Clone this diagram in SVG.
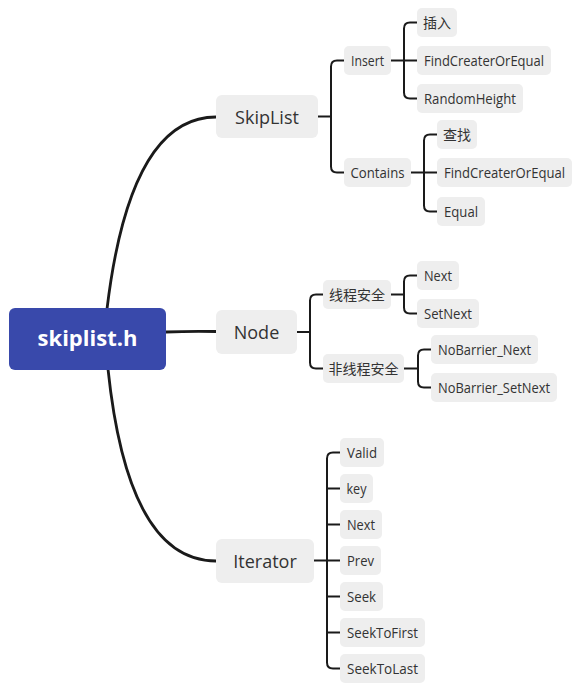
<svg xmlns="http://www.w3.org/2000/svg" width="583" height="692" viewBox="0 0 583 692">
<style>
  .bg{fill:#ffffff}
  .box{fill:#eeeeee}
  .root{fill:#3949ab}
  .t{font-family:"Open Sans","Noto Sans CJK SC",sans-serif;font-size:14.5px;fill:#333333;text-anchor:middle}
  .cn{font-family:"Noto Sans CJK SC",sans-serif;font-size:14px;fill:#333333;text-anchor:middle}
  .tm{font-family:"Open Sans","Noto Sans CJK SC",sans-serif;font-size:18px;fill:#333333;text-anchor:middle}
  .tr{font-family:"Open Sans",sans-serif;font-size:22px;font-weight:bold;fill:#ffffff;text-anchor:middle}
  .main{fill:none;stroke:#1a1a1a;stroke-width:2.8;stroke-linecap:round}
  .br{fill:none;stroke:#1a1a1a;stroke-width:2;stroke-linecap:round;stroke-linejoin:round}
</style>
<rect class="bg" x="0" y="0" width="583" height="692"/>
<g id="connectors">
  <path class="main" d="M107,309 Q130,117 216,117"/>
  <path class="main" d="M166,332 Q190,331 216,331.5"/>
  <path class="main" d="M108,369 Q128,561 216,561"/>
  <path class="br" d="M318,116.5 H331 M344,60.5 H337 Q331,60.5 331,66.5 V166.5 Q331,172.5 337,172.5 H344"/>
  <path class="br" d="M391,60.5 H417 M417,22.5 H410 Q404,22.5 404,28.5 V92.5 Q404,98.5 410,98.5 H417"/>
  <path class="br" d="M411,172.5 H437 M437,134.5 H430 Q424,134.5 424,140.5 V205.5 Q424,211.5 430,211.5 H437"/>
  <path class="br" d="M297,332 H310 M323,294.5 H316 Q310,294.5 310,300.5 V362.5 Q310,368.5 316,368.5 H323"/>
  <path class="br" d="M391,294.5 H404 M417,275.5 H410 Q404,275.5 404,281.5 V307.5 Q404,313.5 410,313.5 H417"/>
  <path class="br" d="M404,368.5 H418 M431,349.5 H424 Q418,349.5 418,355.5 V381.5 Q418,387.5 424,387.5 H431"/>
  <path class="br" d="M314,560.5 H340 M340,452.5 H333 Q327,452.5 327,458.5 V662.5 Q327,668.5 333,668.5 H340 M327,488.5 H340 M327,524.5 H340 M327,596.5 H340 M327,632.5 H340"/>
</g>
<g id="root"><rect class="root" x="9" y="308" width="157" height="62" rx="6"/><text class="tr" x="87.5" y="346">skiplist.h</text></g>
<g id="skiplist"><rect class="box" x="216" y="95" width="102" height="43" rx="6"/><text class="tm" x="267" y="123.5">SkipList</text></g>
<g id="node"><rect class="box" x="216" y="310" width="81" height="44" rx="6"/><text class="tm" x="256.5" y="338.5">Node</text></g>
<g id="iterator"><rect class="box" x="216" y="539" width="98" height="44" rx="6"/><text class="tm" x="265" y="567.5">Iterator</text></g>

<g id="insert"><rect class="box" x="344" y="46" width="47" height="29" rx="5"/><text class="t" x="367.5" y="66" textLength="33" lengthAdjust="spacingAndGlyphs">Insert</text></g>
<g id="contains"><rect class="box" x="344" y="158" width="67" height="29" rx="5"/><text class="t" x="377.5" y="178" textLength="54" lengthAdjust="spacingAndGlyphs">Contains</text></g>
<g id="insert-cn"><rect class="box" x="417" y="8" width="40" height="29" rx="5"/><text class="cn" x="437" y="27.5">插入</text></g>
<g id="insert-find"><rect class="box" x="417" y="46" width="134" height="29" rx="5"/><text class="t" x="484" y="66" textLength="120" lengthAdjust="spacingAndGlyphs">FindCreaterOrEqual</text></g>
<g id="insert-random"><rect class="box" x="417" y="84" width="106" height="29" rx="5"/><text class="t" x="470" y="104" textLength="92" lengthAdjust="spacingAndGlyphs">RandomHeight</text></g>
<g id="contains-cn"><rect class="box" x="437" y="120" width="40" height="29" rx="5"/><text class="cn" x="457" y="139.5">查找</text></g>
<g id="contains-find"><rect class="box" x="437" y="158" width="135" height="29" rx="5"/><text class="t" x="504.5" y="178" textLength="121" lengthAdjust="spacingAndGlyphs">FindCreaterOrEqual</text></g>
<g id="contains-equal"><rect class="box" x="437" y="197" width="48" height="29" rx="5"/><text class="t" x="461" y="217" textLength="34" lengthAdjust="spacingAndGlyphs">Equal</text></g>

<g id="safe"><rect class="box" x="323" y="280" width="68" height="29" rx="5"/><text class="cn" x="357" y="299.5">线程安全</text></g>
<g id="unsafe"><rect class="box" x="323" y="354" width="81" height="29" rx="5"/><text class="cn" x="363.5" y="373.5">非线程安全</text></g>
<g id="safe-next"><rect class="box" x="417" y="261" width="42" height="29" rx="5"/><text class="t" x="438" y="281" textLength="28" lengthAdjust="spacingAndGlyphs">Next</text></g>
<g id="safe-setnext"><rect class="box" x="417" y="299" width="62" height="29" rx="5"/><text class="t" x="448" y="319" textLength="48" lengthAdjust="spacingAndGlyphs">SetNext</text></g>
<g id="nb-next"><rect class="box" x="431" y="335" width="107" height="29" rx="5"/><text class="t" x="484.5" y="355" textLength="93" lengthAdjust="spacingAndGlyphs">NoBarrier_Next</text></g>
<g id="nb-setnext"><rect class="box" x="431" y="373" width="126" height="29" rx="5"/><text class="t" x="494" y="393" textLength="112" lengthAdjust="spacingAndGlyphs">NoBarrier_SetNext</text></g>

<g id="it-valid"><rect class="box" x="340" y="438" width="44" height="29" rx="5"/><text class="t" x="362" y="458" textLength="30" lengthAdjust="spacingAndGlyphs">Valid</text></g>
<g id="it-key"><rect class="box" x="340" y="474" width="33" height="29" rx="5"/><text class="t" x="356.5" y="494" textLength="20" lengthAdjust="spacingAndGlyphs">key</text></g>
<g id="it-next"><rect class="box" x="340" y="510" width="42" height="29" rx="5"/><text class="t" x="361" y="530" textLength="28" lengthAdjust="spacingAndGlyphs">Next</text></g>
<g id="it-prev"><rect class="box" x="340" y="546" width="41" height="29" rx="5"/><text class="t" x="360.5" y="566" textLength="27" lengthAdjust="spacingAndGlyphs">Prev</text></g>
<g id="it-seek"><rect class="box" x="340" y="582" width="43" height="29" rx="5"/><text class="t" x="361.5" y="602" textLength="29" lengthAdjust="spacingAndGlyphs">Seek</text></g>
<g id="it-seekfirst"><rect class="box" x="340" y="618" width="85" height="29" rx="5"/><text class="t" x="382.5" y="638" textLength="71" lengthAdjust="spacingAndGlyphs">SeekToFirst</text></g>
<g id="it-seeklast"><rect class="box" x="340" y="654" width="85" height="29" rx="5"/><text class="t" x="382.5" y="674" textLength="71" lengthAdjust="spacingAndGlyphs">SeekToLast</text></g>
</svg>
